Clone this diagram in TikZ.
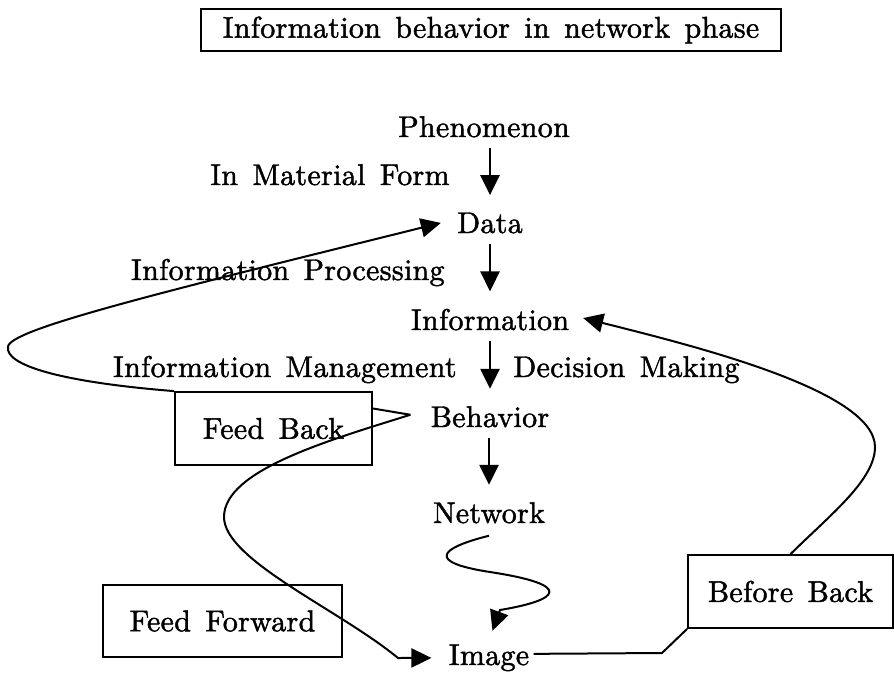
\documentclass[tikz,border=0pt]{standalone}
\usepackage{amsmath, amssymb}
\usepackage{fontspec}
\setmainfont{lmroman10-regular.otf}[LetterSpace=1, WordSpace=1.4, FakeBold=1.5]
\usetikzlibrary{positioning, arrows.meta, calc}

\begin{document}
\begin{tikzpicture}[x=0.5pt, y=-0.5pt,
    every node/.style={font=\fontsize{15}{18}\selectfont, inner sep=2pt},
    box/.style={draw, line width=0.9pt, minimum height=36.5pt},
    tip/.style={-{Triangle[length=10pt, width=9.5pt]}},
    down/.style={tip, line width=1.3pt, shorten <=3pt, shorten >=6.5pt},
    curve/.style={line width=1pt}]
    \useasboundingbox (0,0) rectangle (894,675);

    % judul
    \node[draw, line width=1.2pt, minimum width=290pt, minimum height=21pt]
      (title) at (491,30) {Information behavior in network phase};

    % rantai utama
    \node[anchor=base] (phen) at (484,137) {Phenomenon};
    \node[anchor=base] (data) at (490,233) {Data};
    \node[anchor=base] (info) at (490,330) {Information};
    \node[anchor=base] (beh) at (490,427) {Behavior};
    \node[anchor=base] (net) at (489,523) {Network};
    \node[anchor=base] (img) at (489,665) {Image};

    % keterangan panah
    \node[anchor=base east] (matform) at (454,185) {In Material Form};
    \node[anchor=base east] (proc) at (449,280) {Information Processing};
    \node[anchor=base east] (mgmt) at (461,377) {Information Management};
    \node[anchor=base west] (decide) at (509,377) {Decision Making};

    % kotak
    \node[box, minimum width=98.5pt] (fb) at (273.5,428.5) {Feed Back};
    \node[box, minimum width=119.5pt, minimum height=36pt] (ff) at (222.5,621) {Feed Forward};
    \node[box, minimum width=102.5pt] (bb) at (790.5,591.5) {Before Back};

    \foreach \a/\b in {phen/data, data/info, info/beh, beh/net}{
        \draw[down] (\a.south -| \b) -- (\b);
      }

    % feed back dan feed forward
    \coordinate (fork) at ($(beh.west)+(-8pt,1pt)$);
    \draw[curve] (fork) -- ([yshift=10pt]fb.east);
    \draw[curve, tip] (fb.north west) .. controls (60,382) and (5,365) .. (8,347)
      .. controls (8,330) and (150,295) .. ([xshift=-6pt]data.west);
    \draw[curve, tip, shorten >=6.5pt] (fork) .. controls (330,440) and (224,470) .. (224,517)
      .. controls (224,560) and (340,610) .. (398,658) -- (img.west);

    % network ke image
    \draw[curve, tip, shorten >=5pt] ([yshift=-4pt]net.south) .. controls (440,548) and (425,562) .. (490,572)
      .. controls (575,585) and (560,600) .. (500,610) -- (img.north);

    % before back
    \draw[curve] ([yshift=2pt]img.east) -- (662,653) -- (bb.south west);
    \draw[curve, tip, shorten >=5pt] (bb.north) .. controls (830,515) and (875,480) .. (875,447)
      .. controls (875,390) and (690,345) .. ([yshift=2pt]info.east);
  \end{tikzpicture}
\end{document}
